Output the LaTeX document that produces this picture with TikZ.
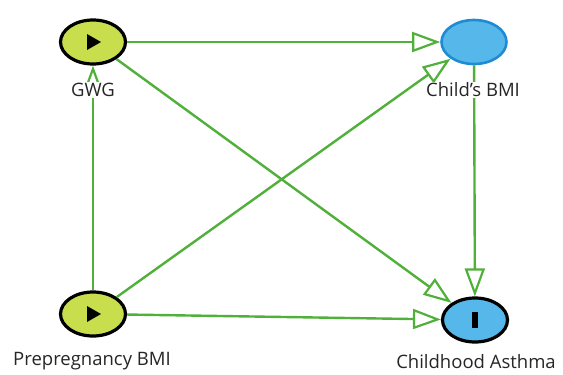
\documentclass[tikz,border=0pt]{standalone}
\usepackage{fontspec}
\setmainfont{Open Sans}
\usetikzlibrary{shapes.geometric,arrows.meta,calc}
\definecolor{exposure}{RGB}{200,222,76}
\definecolor{outcome}{RGB}{86,184,234}
\definecolor{outcomeedge}{RGB}{30,140,212}
\definecolor{pathgreen}{RGB}{80,176,58}
\tikzset{
  var/.style={ellipse, minimum width=65pt, minimum height=44pt, inner sep=0pt, line width=3.2pt},
  expo/.style={var, draw=black, fill=exposure},
  outc/.style={var, draw=black, fill=outcome},
  latent/.style={var, draw=outcomeedge, line width=2.6pt, fill=outcome},
  lbl/.style={fill=white, inner sep=1pt, font=\fontsize{18.5}{22}\selectfont, text=black!85},
  causal/.style={draw=pathgreen, line width=2.4pt,
    -{Triangle[open, length=28pt, width=20pt, line width=2.2pt]}},
}
\begin{document}
\begin{tikzpicture}[x=1pt, y=-1pt]
  \useasboundingbox (0,0) rectangle (563,375);

  % variables
  \node[expo]   (gwg)  at (93,42)  {};
  \node[expo]   (pre)  at (93,314) {};
  \node[latent] (cbmi) at (474,42) {};
  \node[outc]   (asth) at (475,320) {};

  % node glyphs: exposure play marks and outcome bar
  \fill[black] ($(gwg)+(-6,-8)$) -- ($(gwg)+(8,0)$) -- ($(gwg)+(-6,8)$) -- cycle;
  \fill[black] ($(pre)+(-6,-8)$) -- ($(pre)+(8,0)$) -- ($(pre)+(-6,8)$) -- cycle;
  \fill[black] ($(asth)+(-3,-8)$) rectangle ($(asth)+(3,8)$);

  % causal paths
  \draw[causal] (gwg)  -- (cbmi);
  \draw[causal] (gwg)  -- (asth);
  \draw[causal] (pre)  -- (gwg);
  \draw[causal] (pre)  -- (cbmi);
  \draw[causal] (pre)  -- (asth);
  \draw[causal] (cbmi) -- (asth);

  % labels
  \node[lbl] (lgwg)  at (93,90)   {GWG};
  \node[lbl] (lcbmi) at (473,90)  {Child's BMI};
  \node[lbl] (lpre)  at (92,361)  {Prepregnancy BMI};
  \node[lbl] (lasth) at (476,362) {Childhood Asthma};
\end{tikzpicture}
\end{document}
